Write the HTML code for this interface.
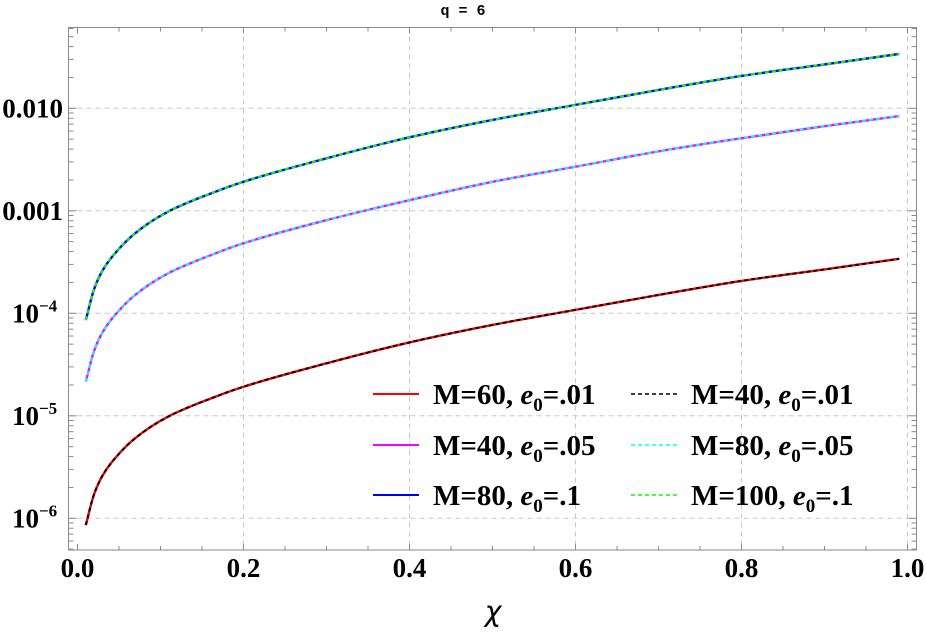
<!DOCTYPE html>
<html><head><meta charset="utf-8"><style>
html,body{margin:0;padding:0;background:#fff;}
svg text{font-family:"Liberation Serif",serif;}
</style></head><body>
<svg id="chart" width="926" height="632" viewBox="0 0 926 632" xmlns="http://www.w3.org/2000/svg">
<text x="463" y="15" text-anchor="middle" style="font-family:'Liberation Mono',monospace;font-weight:bold;font-size:15px">q = 6</text>
<g id="grid"></g>
<g id="frame"></g>
<g id="series"></g>
<g id="xlabels"></g>
<g id="ylabels"></g>
<text x="493" y="621" text-anchor="middle" style="font-family:'DejaVu Sans','Liberation Sans',sans-serif;font-style:italic;font-size:28px">χ</text>
<g id="legend"></g>
</svg>
<script>
const chi = [0.01,0.02,0.03,0.041,0.069,0.109,0.161,0.2,0.3,0.4,0.5,0.6,0.7,0.8,0.9,0.99];
const topSeries = [8.6e-5,1.72e-4,2.6e-4,3.5e-4,6.0e-4,9.8e-4,1.48e-3,1.92e-3,3.25e-3,5.21e-3,7.7e-3,1.08e-2,1.51e-2,2.07e-2,2.68e-2,3.39e-2];
const midSeries = [2.15e-5,4.3e-5,6.5e-5,8.75e-5,1.5e-4,2.45e-4,3.7e-4,4.82e-4,8.1e-4,1.27e-3,1.92e-3,2.69e-3,3.8e-3,5.1e-3,6.7e-3,8.4e-3];
const lowSeries = [8.6e-7,1.72e-6,2.6e-6,3.5e-6,6.0e-6,9.8e-6,1.48e-5,1.92e-5,3.25e-5,5.2e-5,7.7e-5,1.08e-4,1.51e-4,2.07e-4,2.68e-4,3.4e-4];
const xTicks = [0,0.2,0.4,0.6,0.8,1.0];
const xTickLabels = ["0.0","0.2","0.4","0.6","0.8","1.0"];
const yDecades = [-2,-3,-4,-5,-6];
const yTickLabels = ["0.010","0.001","10","10","10"];
const yTickExp = ["","","−4","−5","−6"];

const NS="http://www.w3.org/2000/svg";
const L=68.5,R=916.5,T=27.5,B=550;
function xs(v){return 77.5+v*830;}
function ys(v){return 108.3-(Math.log10(v)+2)*102.5;}
function mk(tag,attrs,parent){const e=document.createElementNS(NS,tag);for(const k in attrs)e.setAttribute(k,attrs[k]);parent.appendChild(e);return e;}
const grid=document.getElementById('grid'),frame=document.getElementById('frame');
xTicks.forEach((t,i)=>{ if(t>0){const g=mk('line',{x1:xs(t),x2:xs(t),y1:T,y2:B,stroke:'#c8c8c8','stroke-width':1,'stroke-dasharray':'5,4'},grid);

}});
yDecades.forEach(d=>{const g=mk('line',{x1:L,x2:R,y1:ys(Math.pow(10,d)),y2:ys(Math.pow(10,d)),stroke:'#c8c8c8','stroke-width':1,'stroke-dasharray':'5,4'},grid);

});
const fr=mk('rect',{x:L,y:T,width:R-L,height:B-T,fill:'none',stroke:'#8a8a8a','stroke-width':1},frame);


for(let k=0;k<=20;k++){const v=k*0.05,x=xs(v),len=(k%4===0)?6:4;
mk('line',{x1:x,x2:x,y1:B,y2:B-len,stroke:'#8a8a8a'},frame);
mk('line',{x1:x,x2:x,y1:T,y2:T+len,stroke:'#8a8a8a'},frame);}
for(let d=-7;d<=-1;d++){for(let m=1;m<=9;m++){const v=m*Math.pow(10,d),y=ys(v);if(y<T||y>B)continue;const len=m===1?8:5;
mk('line',{x1:L,x2:L+len,y1:y,y2:y,stroke:'#8a8a8a'},frame);
mk('line',{x1:R,x2:R-len,y1:y,y2:y,stroke:'#8a8a8a'},frame);}}
const xl=document.getElementById('xlabels');
xTicks.forEach((t,i)=>{const e=mk('text',{x:xs(t),y:577,'text-anchor':'middle','font-weight':'bold','font-size':'27'},xl);e.textContent=xTickLabels[i];

});
const yl=document.getElementById('ylabels');
yDecades.forEach((d,i)=>{const y=ys(Math.pow(10,d))+9;let e;
if(yTickExp[i]===''){e=mk('text',{x:63,y:y,'text-anchor':'end','font-weight':'bold','font-size':'27'},yl);e.textContent=yTickLabels[i];}
else{e=mk('text',{x:12,y:y,'font-weight':'bold','font-size':'27'},yl);e.textContent=yTickLabels[i];const s=mk('tspan',{dy:-11,'font-size':'17'},e);s.textContent=yTickExp[i];}

});
// monotone cubic (Fritsch-Carlson) in pixel space
function pathD(vals){const px=chi.map(xs),py=vals.map(ys),n=px.length;
const dx=[],s=[];for(let i=0;i<n-1;i++){dx.push(px[i+1]-px[i]);s.push((py[i+1]-py[i])/dx[i]);}
const m=[s[0]];for(let i=1;i<n-1;i++){if(s[i-1]*s[i]<=0)m.push(0);else{const w1=2*dx[i]+dx[i-1],w2=dx[i]+2*dx[i-1];m.push((w1+w2)/(w1/s[i-1]+w2/s[i]));}}m.push(s[n-2]);
let d='M'+px[0]+','+py[0];
for(let i=0;i<n-1;i++){const h=dx[i]/3;d+='C'+(px[i]+h)+','+(py[i]+m[i]*h)+' '+(px[i+1]-h)+','+(py[i+1]-m[i+1]*h)+' '+px[i+1]+','+py[i+1];}
return d;}
const sg=document.getElementById('series');
const defs=[[lowSeries,'#ff0000','#000000','series-m60-e001','series-m40-e001'],[midSeries,'#ff00ff','#00ffff','series-m40-e005','series-m80-e005'],[topSeries,'#0000ff','#00ff00','series-m80-e01','series-m100-e01']];
defs.forEach(s=>{const d=pathD(s[0]);
const a=mk('path',{d:d,fill:'none',stroke:s[1],'stroke-width':2.4},sg);


const b=mk('path',{d:d,fill:'none',stroke:s[2],'stroke-width':2,'stroke-dasharray':'4,3'},sg);

});
const lg=document.getElementById('legend');
const entries=[[373,394,'#ff0000',false,'60','.01'],[631,394,'#000000',true,'40','.01'],[373,445,'#ff00ff',false,'40','.05'],[631,445,'#00ffff',true,'80','.05'],[373,495,'#0000ff',false,'80','.1'],[631,495,'#00ff00',true,'100','.1']];
entries.forEach(en=>{const g=mk('g',{},lg);


mk('line',{x1:en[0],x2:en[0]+46,y1:en[1],y2:en[1],stroke:en[2],'stroke-width':en[3]?1.6:2,'stroke-dasharray':en[3]?'4,3':'none'},g);
const t=mk('text',{x:en[0]+60,y:en[1]+10,'font-weight':'bold','font-size':'29'},g);
t.appendChild(document.createTextNode('M='+en[4]+', '));
const e=mk('tspan',{'font-style':'italic'},t);e.textContent='e';
const sub=mk('tspan',{dy:7,'font-size':'19'},t);sub.textContent='0';
const r=mk('tspan',{dy:-7},t);r.textContent='='+en[5];});
</script>
</body></html>
